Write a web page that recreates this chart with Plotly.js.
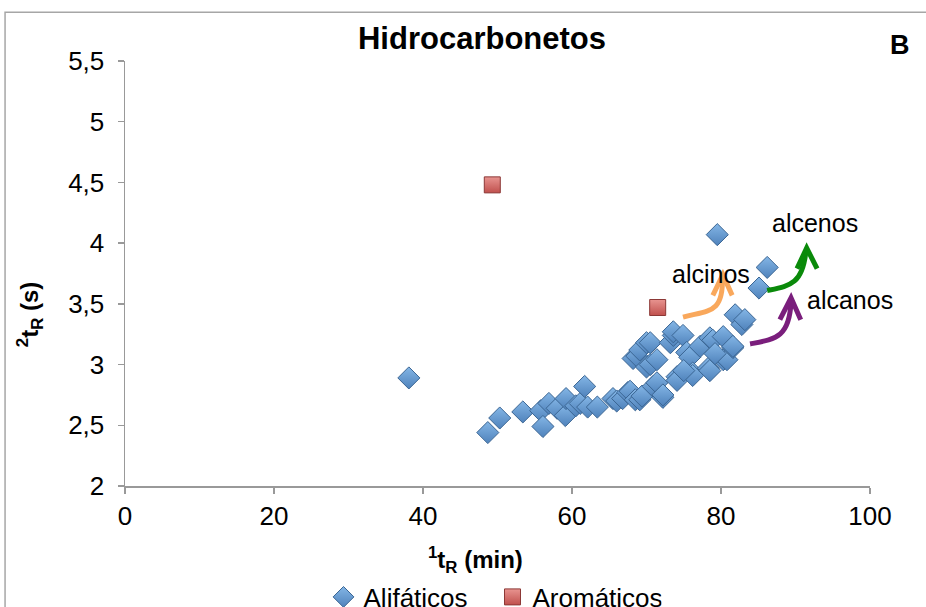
<!DOCTYPE html>
<html>
<head>
<meta charset="utf-8">
<script src="https://cdn.plot.ly/plotly-3.0.1.min.js"></script>
<style>html,body{margin:0;padding:0;background:#fff;}#chart{width:926px;height:607px;}</style>
</head>
<body>
<div id="chart"></div>
<script>
// Data
const alifaticosX = [38.1,48.7,50.3,53.4,55.8,56.1,56.9,58.0,59.1,59.2,60.5,61.1,61.7,62.1,63.4,65.5,66.0,66.8,67.5,67.8,68.5,69.1,69.4,70.9,71.4,72.2,72.2,68.2,68.7,69.1,70.0,70.0,70.5,70.5,71.4,73.2,73.6,73.6,74.9,74.1,74.1,75.4,75.8,76.2,76.2,77.2,78.3,78.5,78.5,78.9,80.3,80.3,80.8,81.6,81.6,81.9,82.8,83.2,79.5,85.1,86.2,75.0,79.2];
const alifaticosY = [2.89,2.44,2.56,2.61,2.62,2.49,2.68,2.64,2.58,2.72,2.66,2.68,2.82,2.65,2.65,2.72,2.70,2.72,2.77,2.78,2.71,2.71,2.74,2.82,2.85,2.73,2.75,3.05,3.07,3.12,3.18,2.98,3.00,3.18,3.04,3.18,3.24,3.27,3.24,2.90,2.87,3.10,3.06,2.93,2.91,3.15,2.97,2.95,3.22,3.20,3.23,3.04,3.04,3.14,3.15,3.41,3.33,3.37,4.07,3.63,3.80,2.95,3.09];
const aromaticosX = [49.3,71.5];
const aromaticosY = [4.48,3.47];
const seriesNames = ['Alifáticos','Aromáticos'];
const xTicks = [0,20,40,60,80,100];
const yTicks = [2,2.5,3,3.5,4,4.5,5,5.5];
const labelNames = ['alcenos','alcinos','alcanos'];
const labelX = [92.6,78.7,97.3];
const labelY = [4.17,3.75,3.53];

const font = 'Liberation Sans, Arial, sans-serif';

const traces = [
  {x: alifaticosX, y: alifaticosY, name: seriesNames[0], type:'scatter', mode:'markers',
   marker:{symbol:'diamond', size:17, color:'#84b6e6', gradient:{type:'vertical', color:'#4f82bb'},
           line:{color:'#3a6593', width:1}}},
  {x: aromaticosX, y: aromaticosY, name: seriesNames[1], type:'scatter', mode:'markers',
   marker:{symbol:'square', size:16, color:'#e89490', gradient:{type:'vertical', color:'#c0504d'},
           line:{color:'#8c3836', width:1}}}
];

function arrow(d, head, color){
  return [
    {type:'path', xref:'x', yref:'y', path:d, line:{color:color, width:5}},
    {type:'path', xref:'x', yref:'y', path:head, line:{color:color, width:5}}
  ];
}

const shapes = [
  {type:'rect', xref:'paper', yref:'paper', x0:-0.161, x1:1.2, y0:-0.4, y1:1.115,
   line:{color:'#a6a6a6', width:1.5}, fillcolor:'rgba(0,0,0,0)', layer:'below'},
  ...arrow('M 74.9 3.39 C 78.5 3.45, 80.3 3.42, 80.2 3.72', 'M 78.9 3.57 L 80.25 3.74 L 81.5 3.57', '#f9a85c'),
  ...arrow('M 86.2 3.61 C 89.3 3.65, 90.9 3.66, 91.4 3.93', 'M 90.2 3.79 L 91.5 3.96 L 92.9 3.79', '#0a8a0a'),
  ...arrow('M 83.9 3.17 C 87.3 3.21, 89.2 3.22, 89.4 3.52', 'M 87.9 3.37 L 89.4 3.55 L 90.7 3.37', '#7a1e7c')
];

const annotations = labelNames.map((t,i)=>({x:labelX[i], y:labelY[i], text:t, showarrow:false,
  font:{family:font, size:25, color:'#000'}}));
annotations.push(
  {xref:'paper', yref:'paper', x:1.04, y:1.038, xanchor:'center', yanchor:'middle', text:'<b>B</b>', showarrow:false,
   font:{family:font, size:27, color:'#000'}},
  {xref:'paper', yref:'paper', x:0.47, y:-0.174, xanchor:'center', yanchor:'middle', showarrow:false,
   text:'<b><sup>1</sup>t<sub>R</sub> (min)</b>', font:{family:font, size:24, color:'#000'}},
  {xref:'paper', yref:'paper', x:-0.1275, y:0.402, xanchor:'center', yanchor:'middle', showarrow:false, textangle:-90,
   text:'<b><sup>2</sup>t<sub>R</sub> (s)</b>', font:{family:font, size:24, color:'#000'}}
);

const layout = {
  width:926, height:607,
  margin:{l:125, r:56, t:61, b:121},
  paper_bgcolor:'#fff', plot_bgcolor:'#fff',
  separators:',.',
  font:{family:font, color:'#000'},
  title:{text:'<b>Hidrocarbonetos</b>', x:482/926, xref:'container', xanchor:'center', y:1-38/607, yref:'container', yanchor:'middle',
         font:{family:font, size:31, color:'#000'}},
  xaxis:{range:[0,100], tickvals:xTicks, showgrid:false, zeroline:false, showline:true, linecolor:'#999', linewidth:1.5,
         ticks:'outside', ticklen:6, tickcolor:'#999', tickwidth:1.5, tickfont:{family:font, size:26}, automargin:false},
  yaxis:{range:[2,5.5], tickvals:yTicks, showgrid:false, zeroline:false, showline:true, linecolor:'#999', linewidth:1.5,
         ticks:'outside', ticklen:6, tickcolor:'#999', tickwidth:1.5, tickfont:{family:font, size:26}, automargin:false,
         ticklabelstandoff:8},
  showlegend:true,
  legend:{orientation:'h', x:0.4933, xanchor:'center', xref:'paper', y:1-597/607, yref:'container', yanchor:'middle',
          font:{family:font, size:26}, itemwidth:30, entrywidth:124, tracegroupgap:0, bgcolor:'rgba(0,0,0,0)'},
  shapes: shapes,
  annotations: annotations
};

Plotly.newPlot('chart', traces, layout, {displayModeBar:false, staticPlot:true});
</script>
</body>
</html>
